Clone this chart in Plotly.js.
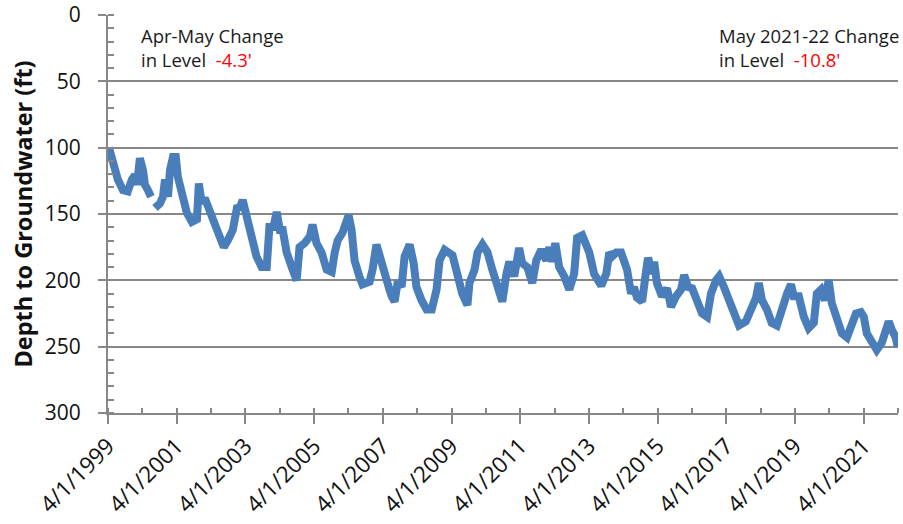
<!DOCTYPE html>
<html>
<head>
<meta charset="utf-8">
<script src="https://cdn.plot.ly/plotly-3.0.1.min.js"></script>
<style>html,body{margin:0;padding:0;background:#fff;}#chart{width:903px;height:524px;}</style>
</head>
<body>
<div id="chart"></div>
<script>
const dates = [
"1999-04-11","1999-05-22","1999-07-15","1999-09-07","1999-10-28","1999-12-11","2000-01-13","2000-02-04","2000-03-05","2000-04-07","2000-04-28","2000-05-29","2000-07-01",
"2000-07-20",
"2000-08-13","2000-10-05","2000-11-06","2000-11-27","2000-12-29","2001-01-19","2001-02-20","2001-03-22","2001-04-13","2001-05-25","2001-07-17","2001-09-09","2001-11-02","2001-11-22","2001-12-23",
"2002-01-24","2002-03-17","2002-05-10","2002-07-03","2002-08-14","2002-09-25","2002-11-18","2003-01-01","2003-02-02","2003-03-03","2003-04-15","2003-06-07","2003-07-28","2003-09-21","2003-11-14","2003-12-15",
"2004-01-17","2004-02-28","2004-04-01","2004-05-02","2004-06-13","2004-08-06","2004-09-27","2004-10-28","2004-12-21","2005-02-14","2005-03-15","2005-04-26","2005-06-19","2005-08-12","2005-10-05","2005-11-06","2005-12-07",
"2006-01-28","2006-03-11","2006-04-03","2006-05-04","2006-06-05","2006-07-26","2006-08-28","2006-11-12","2006-12-13","2007-01-24","2007-02-25","2007-04-19","2007-06-11","2007-07-04","2007-08-05","2007-09-07","2007-10-18","2007-11-19",
"2008-01-12","2008-02-23","2008-03-24","2008-05-17","2008-07-10","2008-09-03","2008-10-24","2008-11-25","2009-01-18","2009-04-11","2009-06-03","2009-07-24","2009-09-17","2009-10-09","2009-12-02",
"2010-01-03","2010-02-24","2010-04-17","2010-06-09","2010-08-02","2010-09-23","2010-11-06","2010-12-07","2011-01-28","2011-03-21","2011-04-22","2011-06-15","2011-08-08","2011-09-19","2011-11-12",
"2012-01-05","2012-02-06","2012-03-07","2012-04-09","2012-05-20","2012-07-13","2012-09-05","2012-10-26","2012-11-27","2013-01-20","2013-03-03","2013-04-05","2013-05-26","2013-08-10","2013-10-03","2013-11-04","2013-12-05",
"2014-01-17","2014-03-09","2014-04-11","2014-05-12","2014-06-23","2014-07-24","2014-08-25","2014-10-19","2014-12-02","2014-12-21","2015-02-04","2015-02-24","2015-03-25","2015-05-18","2015-07-11","2015-08-22","2015-10-15","2015-12-07",
"2016-01-09","2016-02-20","2016-04-03","2016-05-24","2016-07-17","2016-09-09","2016-10-20","2016-12-13","2017-01-15","2017-03-07","2017-04-28","2017-06-21","2017-08-14","2017-10-26","2017-12-19",
"2018-02-12","2018-03-13","2018-04-15","2018-06-07","2018-07-28","2018-09-21","2018-11-14","2019-01-07","2019-02-18","2019-03-19","2019-05-12","2019-07-05","2019-08-25","2019-10-19","2019-11-20",
"2020-01-03","2020-02-14","2020-03-25","2020-04-26","2020-06-19","2020-08-12","2020-10-05","2020-11-26","2021-01-09","2021-03-02","2021-04-03","2021-05-04","2021-06-25","2021-08-18","2021-10-11","2021-11-22","2021-12-23",
"2022-01-24","2022-03-07","2022-03-28"
];
const depthFt = [
100,111.6,124,132,133,124,120.6,128,108,117,128,132,137,
null,
145.5,142,137,124,137,117,107,107,122,137,149,156,154,127,142,
138,147,154.5,164,175,170,162,145.5,145,139.5,152,170,182,190,190,157,
162,148.5,162,162,179,190,200,175,172,167,158,172,179,192,193.7,179,170,
164,156,151,162,185,197,203,201,192,173,182,192,207,212,216,201,205,182,
173,187,205,215,222,222,207,185,177,181,195,210,218.6,202,192,
179,173,178.6,192,207,216,195,186,197,175.6,187,190,202,185,177,
185,175,186,172,190,197,207,195,168,166,175,179,195,204,195,179,182,
179,179,186,192,210,205,213,216,192,183,195,186,202,212,206,220,212,207,
196,205,206,215,225,227.6,210,200,197,205,215,227.6,234,231,222,
213,202,215,222,232,234,220,210,203,212,212,227.6,236,232,210,
207,215,200,217,230,240,243,235,225,224,227.6,240,247,252.5,247,235,231,
237,243,250
];
const yTickVals = [0,50,100,150,200,250,300];
const yTickText = ["0","50","100","150","200","250","300"];
const yTitle = "Depth to Groundwater (ft)";
const note1 = ["Apr-May Change", "in Level", "-4.3'"];
const note2 = ["May 2021-22 Change", "in Level", "-10.8'"];

const axisGray = "#878787";
const font = "Open Sans, Liberation Sans, sans-serif";

const trace = {
  x: dates, y: depthFt, type: "scatter", mode: "lines",
  line: {color: "#4a7ebb", width: 8, shape: "linear"},
  connectgaps: false, hoverinfo: "skip"
};

function note(lines, xpos) {
  return {
    xref: "paper", yref: "paper", x: xpos, y: 0.985, xanchor: "left", yanchor: "top",
    showarrow: false, align: "left",
    text: lines[0] + "<br>" + lines[1] + "\u00a0\u00a0<span style='color:#ff0000'>" + lines[2] + "</span>",
    font: {family: font, size: 18.5, color: "#1a1a1a"}
  };
}

const layout = {
  width: 903, height: 524,
  margin: {l: 108, r: 5, t: 15, b: 111, pad: 0},
  paper_bgcolor: "#fff", plot_bgcolor: "#fff",
  showlegend: false,
  xaxis: {
    type: "date",
    range: ["1999-04-01", "2022-04-01"],
    tick0: "1999-04-01", dtick: "M24",
    tickformat: "%-m/%-d/%Y",
    tickangle: -45,
    ticks: "outside", ticklen: 9, tickwidth: 2, tickcolor: axisGray,
    minor: {dtick: "M12", tick0: "1999-04-01", ticks: "inside", ticklen: 5, tickwidth: 2, tickcolor: axisGray, showgrid: false},
    showline: true, linecolor: axisGray, linewidth: 2,
    showgrid: false, zeroline: false,
    tickfont: {family: font, size: 22.5, color: "#111"}
  },
  yaxis: {
    range: [300, 0],
    tickvals: yTickVals, ticktext: yTickText,
    ticklabelstandoff: 13,
    ticklabeloverflow: "allow",
    ticks: "outside", ticklen: 8, tickwidth: 2, tickcolor: axisGray,
    minor: {dtick: 10, tick0: 0, ticks: "inside", ticklen: 6, tickwidth: 2, tickcolor: axisGray, showgrid: false},
    showline: true, linecolor: axisGray, linewidth: 2,
    showgrid: true, gridcolor: axisGray, gridwidth: 2,
    zeroline: false,
    tickfont: {family: font, size: 21, color: "#111"},
    title: {text: "<b>" + yTitle + "</b>", font: {family: font, size: 23.5, color: "#111"}, standoff: 6}
  },
  annotations: [note(note1, 0.039), note(note2, 0.771)]
};

Plotly.newPlot("chart", [trace], layout, {displayModeBar: false, staticPlot: true});
</script>
</body>
</html>
